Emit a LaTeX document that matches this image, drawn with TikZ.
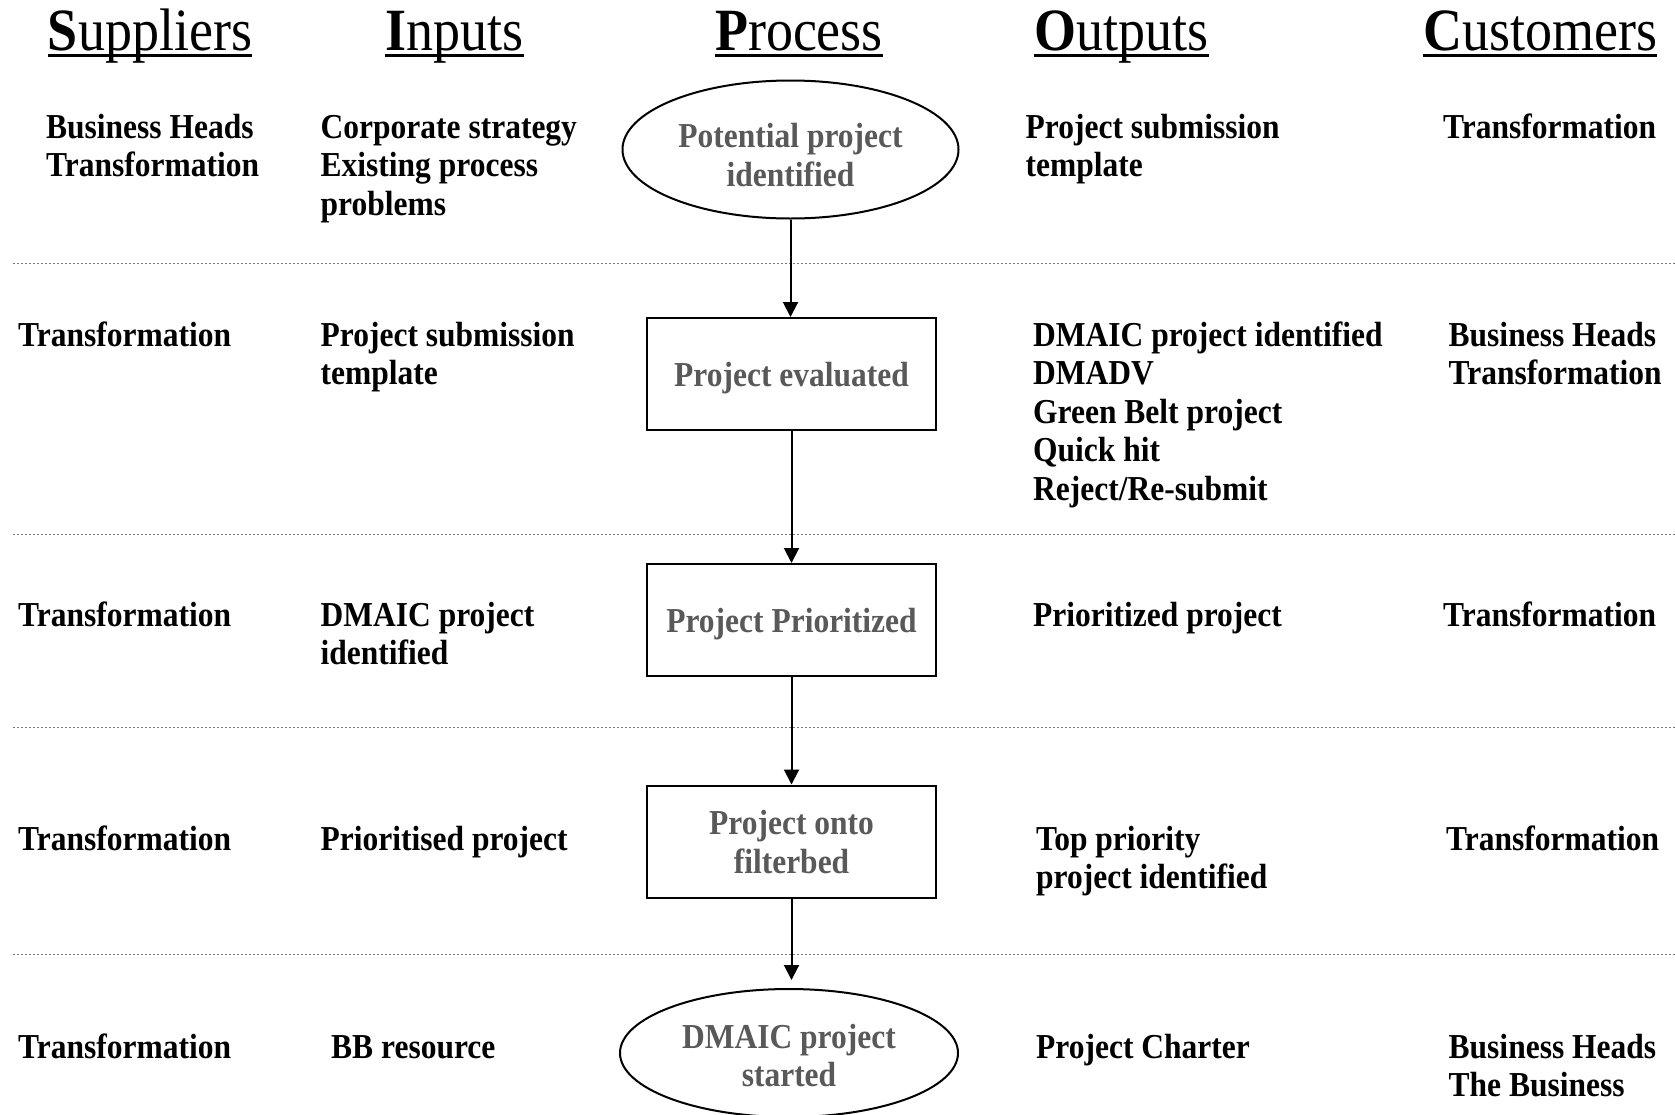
\documentclass[tikz,border=0pt]{standalone}
\usepackage{fontspec}
\setmainfont{Liberation Serif}[FakeStretch=0.9]
\usetikzlibrary{shapes.geometric,arrows.meta}
\definecolor{proctext}{RGB}{89,89,89}
\definecolor{rule}{RGB}{120,120,120}
% left-aligned stack of lines whose baseline is the first line
\newcommand\rowlines[1]{\begin{tabular}[t]{@{}l@{}}#1\end{tabular}}
% centred stack of lines, set slightly low within its shape
\newcommand\steplines[2][5pt]{\raisebox{-#1}[\height][\depth]{\begin{tabular}{@{}c@{}}#2\end{tabular}}}
\begin{document}
\begin{tikzpicture}[x=1pt,y=-1pt,
  hdr/.style={inner sep=0pt,anchor=base,font=\fontsize{60}{66}\selectfont},
  cell/.style={inner sep=0pt,anchor=base west,font=\fontsize{35}{38.5}\selectfont\bfseries},
  procbox/.style={draw,line width=2pt,rectangle,minimum width=289pt,minimum height=112pt,inner sep=0pt,
    text=proctext,font=\fontsize{35}{38.5}\selectfont\bfseries},
  procell/.style={draw,line width=2pt,ellipse,inner sep=0pt,
    text=proctext,font=\fontsize{35}{38.5}\selectfont\bfseries},
  flow/.style={line width=2pt,-{Triangle[length=15pt,width=15pt]}},
  sep/.style={rule,line width=1pt,dash pattern=on 2pt off 2pt}]
\useasboundingbox (0,0) rectangle (1675,1114);

% column headings
\foreach \nm/\cx/\first/\rest in {hs/150/S/uppliers,hi/454.5/I/nputs,hp/799/P/rocess,ho/1121.5/O/utputs,hc/1540/C/ustomers}{
  \node[hdr] (\nm) at (\cx,50) {\textbf{\first}\rest};
  \draw[line width=3pt] ([yshift=-5.5pt]\nm.base west) -- ([yshift=-5.5pt]\nm.base east);
}

% row separators
\foreach \yy/\nm in {263/a,534/b,727/c,954/d}{
  \coordinate (sepL\nm) at (13,\yy);
  \coordinate (sepR\nm) at (1675,\yy);
  \draw[sep] (sepL\nm) -- (sepR\nm);
}

% process flow
\node[procell,minimum width=336pt,minimum height=138pt] (p1) at (790.5,149.5) {\steplines[10pt]{Potential project\\identified}};
\node[procbox] (p2) at (791.5,374) {\steplines{Project evaluated}};
\node[procbox] (p3) at (791.5,620) {\steplines{Project Prioritized}};
\node[procbox] (p4) at (791.5,841.5) {\steplines{Project onto\\filterbed}};
\node[procell,minimum width=338pt,minimum height=128pt] (p5) at (789,1053) {\steplines[7pt]{DMAIC project\\started}};

\draw[flow] (p1.south) -- (p1.south |- p2.north);
\draw[flow] (p2.south) -- (p3.north);
\draw[flow] (p3.south) -- (p4.north);
\draw[flow,shorten >=8pt] (p4.south) -- (p4.south |- p5.north);

% row 1
\node[cell] (s1) at (46,138) {\rowlines{Business Heads\\Transformation}};
\node[cell] (i1) at (320.5,138) {\rowlines{Corporate strategy\\Existing process\\problems}};
\node[cell] (o1) at (1025.5,138) {\rowlines{Project submission\\template}};
\node[cell] (c1) at (1443,138) {Transformation};

% row 2
\node[cell] (s2) at (18,346) {Transformation};
\node[cell] (i2) at (320.5,346) {\rowlines{Project submission\\template}};
\node[cell] (o2) at (1033,346) {\rowlines{DMAIC project identified\\DMADV\\Green Belt project\\Quick hit\\Reject/Re-submit}};
\node[cell] (c2) at (1448.5,346) {\rowlines{Business Heads\\Transformation}};

% row 3
\node[cell] (s3) at (18,626) {Transformation};
\node[cell] (i3) at (320.5,626) {\rowlines{DMAIC project\\identified}};
\node[cell] (o3) at (1033,626) {Prioritized project};
\node[cell] (c3) at (1443,626) {Transformation};

% row 4
\node[cell] (s4) at (18,850) {Transformation};
\node[cell] (i4) at (320.5,850) {Prioritised project};
\node[cell] (o4) at (1036,850) {\rowlines{Top priority\\project identified}};
\node[cell] (c4) at (1446,850) {Transformation};

% row 5
\node[cell] (s5) at (18,1058) {Transformation};
\node[cell] (i5) at (331,1058) {BB resource};
\node[cell] (o5) at (1036,1058) {Project Charter};
\node[cell] (c5) at (1448.5,1058) {\rowlines{Business Heads\\The Business}};
\end{tikzpicture}
\end{document}
